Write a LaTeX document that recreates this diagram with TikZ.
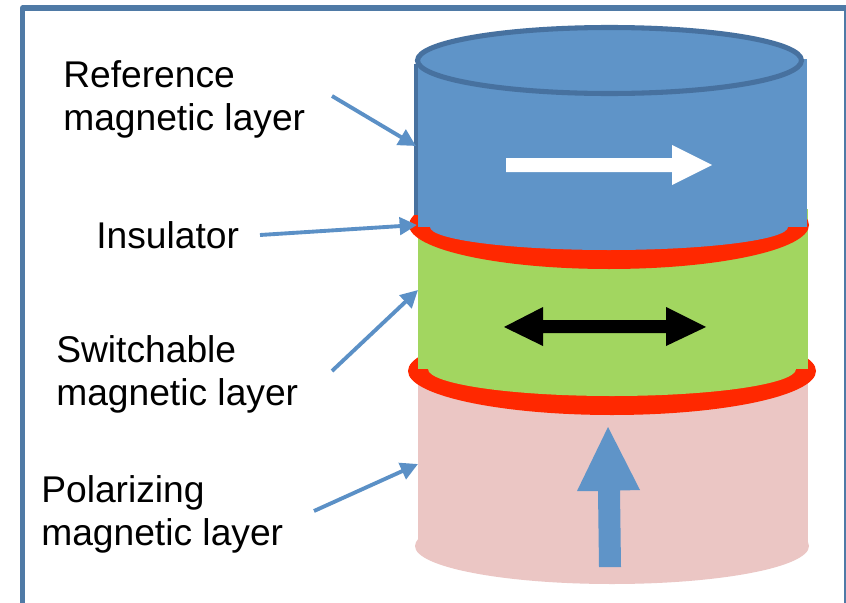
\documentclass[tikz,border=0pt]{standalone}
\usepackage{fontspec}
\setmainfont{Liberation Sans}
\usetikzlibrary{arrows.meta}
\definecolor{capblue}{HTML}{5F94C8}
\definecolor{capedge}{HTML}{47719F}
\definecolor{frameblue}{HTML}{4F7AA6}
\definecolor{insred}{HTML}{FF2800}
\definecolor{switchgreen}{HTML}{A2D660}
\definecolor{polpink}{HTML}{EBC6C4}
\definecolor{pointer}{HTML}{5B90C6}
\tikzset{
  lbl/.style={anchor=base west,inner sep=0pt,align=left,font=\fontsize{27.9}{32.2}\selectfont},
  ptr/.style={draw=pointer,line width=2.9pt,-{Triangle[length=13pt,width=13pt]},shorten >=0pt},
  pt/.style={inner sep=0pt,minimum size=0pt}
}
\begin{document}
\begin{tikzpicture}[x=0.75pt,y=-0.75pt]
\useasboundingbox (0,0) rectangle (846,603);
\clip (0,0) rectangle (846,603);
\fill[white] (0,0) rectangle (846,603);
% frame
\draw[frameblue,line width=3.8pt,line join=round] (22.5,8) rectangle (847,640);
% polarizing layer
\fill[polpink] (612,546) ellipse [x radius=197, y radius=38];
\fill[polpink] (418,380) rectangle (808,546);
% lower insulator
\fill[insred] (612,371) ellipse [x radius=204, y radius=44];
% switchable layer
\fill[switchgreen] (418,209) rectangle (808,369);
\fill[switchgreen] (612,369) ellipse [x radius=184, y radius=27];
% upper insulator
\fill[insred] (609,225) ellipse [x radius=200, y radius=44];
% reference layer
\fill[capblue] (609,227) ellipse [x radius=179, y radius=23];
\fill[capblue] (418,59) rectangle (807,227);
\draw[capedge,line width=3pt] (415.5,64) -- (415.5,215);
\draw[capedge,fill=capblue,line width=3.8pt] (609.5,60.5) ellipse [x radius=192, y radius=33];
% magnetisation arrows
\fill[white] (506,158) -- (672,158) -- (672,145) -- (712,165) -- (672,185) -- (672,172) -- (506,172) -- cycle;
\fill[black] (504,327) -- (543,307) -- (543,320) -- (666,320) -- (666,307) -- (706,327) -- (666,346) -- (666,333) -- (543,333) -- (543,346) -- cycle;
\fill[capblue] (608,427) -- (640,490) -- (620,490.5) -- (621,567) -- (599,567) -- (598,491) -- (577,491) -- cycle;
% labels
\node[lbl] (ref) at (63,130) {Reference\\magnetic layer};
\node[lbl] (ins) at (96,248) {Insulator};
\node[lbl] (swi) at (56,405) {Switchable\\magnetic layer};
\node[lbl] (pol) at (41,545) {Polarizing\\magnetic layer};
% connector ends
\coordinate (refs) at (332,96);
\coordinate (reft) at (416,146);
\coordinate (inss) at (260,235);
\coordinate (inst) at (417,225);
\coordinate (swis) at (332,371);
\coordinate (swit) at (418,290);
\coordinate (pols) at (314,511);
\coordinate (polt) at (418,464);
\draw[ptr] (refs) -- (reft);
\draw[ptr] (inss) -- (inst);
\draw[ptr] (swis) -- (swit);
\draw[ptr] (pols) -- (polt);
\end{tikzpicture}
\end{document}
